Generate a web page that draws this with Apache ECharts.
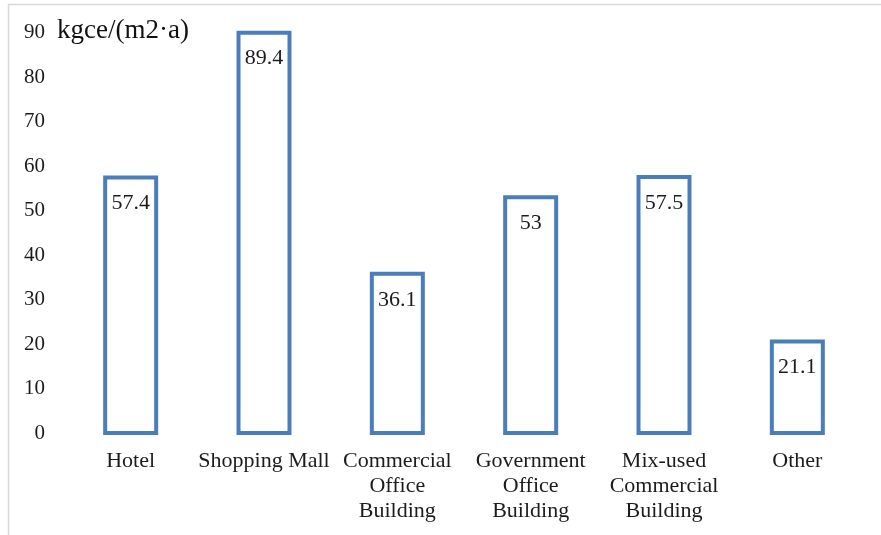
<!DOCTYPE html>
<html>
<head>
<meta charset="utf-8">
<script src="https://cdn.jsdelivr.net/npm/echarts@6/dist/echarts.min.js"></script>
<style>
  html, body { margin: 0; padding: 0; background: #fff; }
  #chart { width: 881px; height: 535px; }
</style>
</head>
<body>
<div id="chart"></div>
<script>
// Energy use intensity by building type
const categories = [
  'Hotel',
  'Shopping Mall',
  'Commercial\nOffice\nBuilding',
  'Government\nOffice\nBuilding',
  'Mix-used\nCommercial\nBuilding',
  'Other'
];
const intensity = [57.4, 89.4, 36.1, 53, 57.5, 21.1];
const yTicks = [0, 10, 20, 30, 40, 50, 60, 70, 80, 90];
const unitLabel = 'kgce/(m2·a)';

const FONT = '"Liberation Serif", "Times New Roman", serif';
const TEXT = '#1c1c1c';
const BLUE = '#4a7ebb';

const chart = echarts.init(document.getElementById('chart'), null, { renderer: 'canvas' });

const yMin = yTicks[0];
const yMax = yTicks[yTicks.length - 1];

chart.setOption({
  animation: false,
  backgroundColor: '#ffffff',
  // grid 0 carries the tick labels; grid 1 holds the outlined bars, whose
  // outer stroke edge sits half a border-width past the tick positions
  grid: [
    { left: 64, right: 17, top: 32.5, bottom: 102, containLabel: false },
    { left: 64, right: 17, top: 28, bottom: 100, containLabel: false }
  ],
  graphic: [
    // light frame along the top and left edges
    { type: 'line', shape: { x1: 8, y1: 4.5, x2: 881, y2: 4.5 }, style: { stroke: '#d9d9d9', lineWidth: 1.5 } },
    { type: 'line', shape: { x1: 8.5, y1: 4, x2: 8.5, y2: 535 }, style: { stroke: '#d9d9d9', lineWidth: 1.5 } },
    {
      type: 'text', left: 57, top: 17.5,
      style: { text: unitLabel, font: '27px ' + FONT, fill: '#111' }
    }
  ],
  xAxis: [
    {
      gridIndex: 0,
      type: 'category',
      data: categories,
      axisLine: { show: false },
      axisTick: { show: false },
      splitLine: { show: false },
      axisLabel: {
        interval: 0,
        margin: 16,
        color: TEXT,
        fontFamily: FONT,
        fontSize: 22,
        lineHeight: 25
      }
    },
    {
      gridIndex: 1,
      type: 'category',
      data: categories,
      show: false
    }
  ],
  yAxis: [
    {
      gridIndex: 0,
      type: 'value',
      min: yMin,
      max: yMax,
      interval: 10,
      axisLine: { show: false },
      axisTick: { show: false },
      splitLine: { show: false },
      axisLabel: {
        margin: 19,
        color: TEXT,
        fontFamily: FONT,
        fontSize: 21
      }
    },
    {
      gridIndex: 1,
      type: 'value',
      min: yMin,
      max: yMax,
      interval: 10,
      show: false
    }
  ],
  series: [{
    type: 'bar',
    xAxisIndex: 1,
    yAxisIndex: 1,
    data: intensity,
    barWidth: 55,
    itemStyle: { color: '#ffffff', borderColor: BLUE, borderWidth: 4 },
    label: {
      show: true,
      position: 'insideTop',
      distance: 17,
      color: TEXT,
      fontFamily: FONT,
      fontSize: 22
    }
  }]
});
</script>
</body>
</html>
